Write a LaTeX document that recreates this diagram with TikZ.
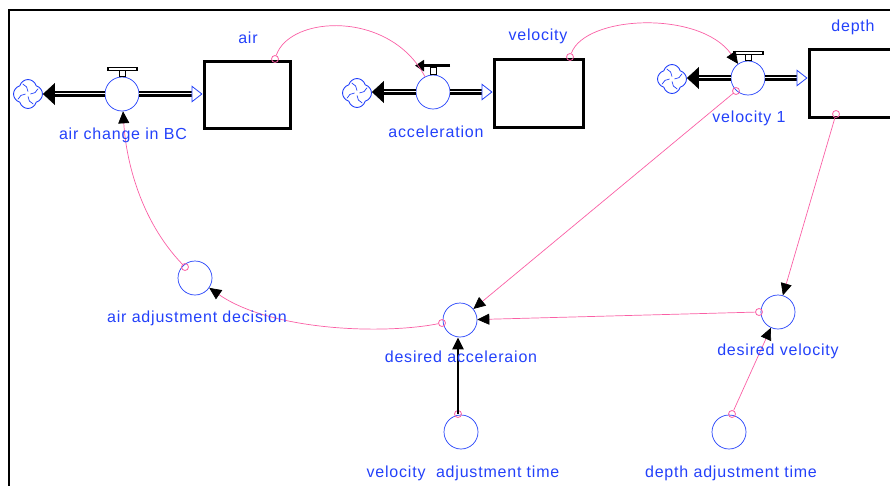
\documentclass[tikz,border=0pt]{standalone}
\usepackage{fontspec}
\setmainfont{Liberation Sans}[LetterSpace=5]
\usetikzlibrary{arrows.meta,shapes.symbols}

\definecolor{stblue}{RGB}{35,65,250}
\definecolor{stpink}{RGB}{250,95,165}

\def\tbar#1{
	\draw[line width=1.6pt] ([shift={(-14,-9)}]#1.north) rectangle ([shift={(15,-6)}]#1.north);
	\draw[line width=0.8pt] ([shift={(-3,-6)}]#1.north) rectangle ([shift={(3,0)}]#1.north);
}
\def\abar#1{
	\draw[line width=2.8pt,-{Triangle[length=9pt,width=11pt]}] ([shift={(17,-9)}]#1.north) -- ([shift={(-18,-9)}]#1.north);
	\draw[line width=0.8pt] ([shift={(-3,-7)}]#1.north) rectangle ([shift={(3,0)}]#1.north);
}

\tikzset{
	aux/.style={circle,draw=stblue,line width=0.7pt,minimum size=34pt,inner sep=0pt},
	stock/.style={draw,line width=3pt,inner sep=0pt},
	sink/.style={cloud,cloud puffs=4,aspect=1,draw=stblue,line width=0.9pt,minimum width=29pt,minimum height=29pt,inner sep=0pt,
		path picture={
			\foreach \a in {0,90,180,270}
				\draw[stblue,line width=0.7pt] ([shift={(\a:2.5pt)}]path picture bounding box.center) arc[start angle=\a-90,delta angle=70,radius=8pt];
		}},
	lnkdot/.style={circle,draw=stpink,line width=0.8pt,minimum size=7pt,inner sep=0pt},
	lbl/.style={text=stblue,font=\fontsize{16}{18}\selectfont,anchor=base},
	link/.style={draw=stpink,line width=0.7pt,-{Triangle[length=12pt,width=11pt,color=black]}},
	thicklink/.style={line width=2.6pt,-{Triangle[length=12pt,width=11pt]}},
	pipe/.style={line width=2.2pt,double=white,double distance=1.6pt,shorten >=11pt},
	sinkend/.style={line width=0.4pt,-{Triangle[length=12pt,width=22pt]}},
	stockend/.style={line width=0.4pt,-{Triangle[length=11pt,width=17pt,color=stblue,fill=white,line width=0.8pt]}}
}

\begin{document}
\begin{tikzpicture}[x=1pt,y=-1pt]
	\clip (0,0) rectangle (890,485);
	\draw[line width=2.5pt] (9,495) -- (9,10) -- (900,10);

	% stocks
	\node[stock,minimum width=86pt,minimum height=67pt] (air) at (247,94.5) {};
	\node[stock,minimum width=89pt,minimum height=68pt] (vel) at (538.5,93) {};
	\node[stock,minimum width=86pt,minimum height=68pt] (depth) at (852,83) {};

	% flows
	\node[sink] (cloudA) at (28,94) {};
	\node[aux] (airchg) at (122,94) {};
	\node[sink] (cloudB) at (357,93) {};
	\node[aux] (accel) at (433,92) {};
	\node[sink] (cloudC) at (672,79) {};
	\node[aux] (vel1) at (748,78) {};

	\draw[pipe] (airchg.west) -- (airchg.west -| cloudA.east);
	\draw[sinkend] (airchg.west) -- (airchg.west -| cloudA.east);
	\draw[pipe] (airchg.east) -- (airchg.east -| air.west);
	\draw[stockend] (airchg.east) -- (airchg.east -| air.west);
	\draw[pipe] (accel.west) -- (accel.west -| cloudB.east);
	\draw[sinkend] (accel.west) -- (accel.west -| cloudB.east);
	\draw[pipe] (accel.east) -- (accel.east -| vel.west);
	\draw[stockend] (accel.east) -- (accel.east -| vel.west);
	\draw[pipe] (vel1.west) -- (vel1.west -| cloudC.east);
	\draw[sinkend] (vel1.west) -- (vel1.west -| cloudC.east);
	\draw[pipe] (vel1.east) -- (vel1.east -| depth.west);
	\draw[stockend] (vel1.east) -- (vel1.east -| depth.west);

	\tbar{airchg}
	\abar{accel}
	\tbar{vel1}

	% converters
	\node[aux] (airadj) at (195,278) {};
	\node[aux] (dacc) at (460,320) {};
	\node[aux] (dvel) at (778,312) {};
	\node[aux] (vat) at (461,432) {};
	\node[aux] (dat) at (729,432) {};

	\node[lnkdot] (airDot) at (275,59) {};
	\node[lnkdot] (velDot) at (570,57) {};
	\node[lnkdot] (v1Dot) at (736,91) {};
	\node[lnkdot] (depthDot) at (836,114) {};
	\node[lnkdot] (adjDot) at (185,267) {};
	\node[lnkdot] (daDot) at (442,323) {};
	\node[lnkdot] (dvDot) at (759,312) {};
	\node[lnkdot] (vatDot) at (458,414) {};
	\node[lnkdot] (datDot) at (732,414) {};

	% connectors
	\draw[link,-] (airDot) .. controls (290,15) and (390,10) .. (accel);
	\draw[link] (velDot) .. controls (585,15) and (700,10) .. (vel1);
	\draw[link] (adjDot) .. controls (140,220) and (126,160) .. (airchg);
	\draw[link] (daDot) .. controls (380,335) and (270,330) .. (airadj);
	\draw[link] (v1Dot) -- (dacc);
	\draw[link] (dvDot) -- (dacc);
	\draw[link] (depthDot) -- (dvel);
	\draw[link] (datDot) -- (dvel);
	\draw[thicklink] (vatDot.center) -- (vatDot |- dacc.south);

	% labels
	\node[lbl] (airT) at (248,43) {air};
	\node[lbl] (velT) at (538,40.5) {velocity};
	\node[lbl] (depthT) at (853,31) {depth};
	\node[lbl] (airchgT) at (123,139) {air change in BC};
	\node[lbl] (accelT) at (436,137) {acceleration};
	\node[lbl] (vel1T) at (749,122) {velocity 1};
	\node[lbl] (airadjT) at (197,322.5) {air adjustment decision};
	\node[lbl] (daccT) at (461,362) {desired acceleraion};
	\node[lbl] (dvelT) at (778,355.5) {desired velocity};
	\node[lbl] (vatT) at (463,477) {velocity\ \ adjustment time};
	\node[lbl] (datT) at (731,477) {depth adjustment time};
\end{tikzpicture}
\end{document}
